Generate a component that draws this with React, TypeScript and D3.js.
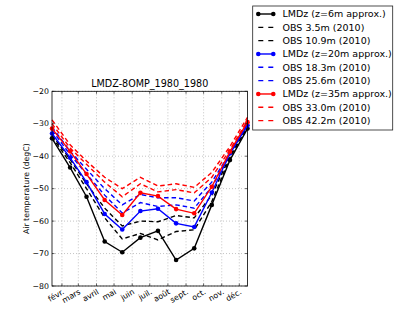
import React from "react";
import * as d3 from "d3";

// monthly values, one per month (15th)
const monthDates = [
  "2010-01-15", "2010-02-15", "2010-03-15", "2010-04-15", "2010-05-15", "2010-06-15",
  "2010-07-15", "2010-08-15", "2010-09-15", "2010-10-15", "2010-11-15", "2010-12-15",
];
const lmdz6m = [-34.5, -43.5, -52.5, -66.3, -69.6, -65.1, -63.0, -72.0, -68.4, -55.0, -41.2, -31.5];
const obs3_5 = [-34.0, -42.0, -50.0, -59.0, -65.5, -63.8, -65.8, -63.2, -62.7, -54.0, -40.5, -31.0];
const obs10_9 = [-33.5, -41.0, -48.5, -56.0, -61.5, -60.0, -60.2, -58.3, -59.0, -52.0, -40.0, -30.5];
const lmdz20m = [-33.0, -40.5, -48.0, -57.8, -62.6, -56.9, -56.2, -60.7, -61.8, -51.2, -39.1, -30.5];
const obs18_3 = [-32.0, -39.5, -45.5, -52.0, -57.5, -54.3, -55.5, -55.0, -56.0, -49.5, -39.5, -30.0];
const obs25_6 = [-31.0, -38.5, -44.0, -50.0, -55.0, -51.8, -52.8, -52.8, -53.8, -48.0, -39.0, -29.5];
const lmdz35m = [-31.5, -38.5, -45.5, -53.5, -58.1, -51.3, -52.3, -56.3, -57.6, -49.4, -38.6, -29.5];
const obs33_0 = [-30.0, -37.5, -42.5, -48.0, -52.5, -48.5, -51.0, -50.3, -51.3, -46.5, -38.0, -29.0];
const obs42_2 = [-28.8, -36.5, -41.5, -46.5, -50.0, -46.5, -49.2, -48.5, -49.6, -45.0, -37.0, -28.0];

const xTickDates = [
  "2010-02-01", "2010-03-01", "2010-04-01", "2010-05-01", "2010-06-01", "2010-07-01",
  "2010-08-01", "2010-09-01", "2010-10-01", "2010-11-01", "2010-12-01",
];
const xTickLabels = ["févr.", "mars", "avril", "mai", "juin", "juil.", "août", "sept.", "oct.", "nov.", "déc."];
const yTicks = [-80, -70, -60, -50, -40, -30, -20];

const series = [
  { name: "LMDz (z=6m approx.)", values: lmdz6m, color: "#000000", model: true },
  { name: "OBS 3.5m (2010)", values: obs3_5, color: "#000000", model: false },
  { name: "OBS 10.9m (2010)", values: obs10_9, color: "#000000", model: false },
  { name: "LMDz (z=20m approx.)", values: lmdz20m, color: "#0000ff", model: true },
  { name: "OBS 18.3m (2010)", values: obs18_3, color: "#0000ff", model: false },
  { name: "OBS 25.6m (2010)", values: obs25_6, color: "#0000ff", model: false },
  { name: "LMDz (z=35m approx.)", values: lmdz35m, color: "#ff0000", model: true },
  { name: "OBS 33.0m (2010)", values: obs33_0, color: "#ff0000", model: false },
  { name: "OBS 42.2m (2010)", values: obs42_2, color: "#ff0000", model: false },
];

const parse = d3.timeParse("%Y-%m-%d");
const font = "DejaVu Sans, sans-serif";

export default function App() {
  const W = 401, H = 311;
  const m = { left: 52, right: 247.5, top: 91.3, bottom: 286 };
  const dates = monthDates.map((d) => parse(d) as Date);

  const x = d3.scaleTime().domain([dates[0], dates[dates.length - 1]]).range([m.left, m.right]);
  const y = d3.scaleLinear().domain([-80, -20]).range([m.bottom, m.top]);

  const line = d3
    .line<number>()
    .x((_, i) => x(dates[i]))
    .y((v) => y(v));

  const tickX = xTickDates.map((d) => x(parse(d) as Date));

  // legend placement
  const lg = { x: 252.7, y: 6, w: 140, h: 124, row0: 14, step: 13.33 };

  return (
    <svg width={W} height={H} style={{ position: "absolute", left: 0, top: 0, background: "#fff" }}>
      {/* grid */}
      {tickX.map((tx, i) => (
        <line key={"gx" + i} x1={tx} x2={tx} y1={m.top} y2={m.bottom} stroke="#aaa" strokeWidth={0.7} strokeDasharray="1,2" />
      ))}
      {yTicks.map((t) => (
        <line key={"gy" + t} x1={m.left} x2={m.right} y1={y(t)} y2={y(t)} stroke="#aaa" strokeWidth={0.7} strokeDasharray="1,2" />
      ))}

      {/* series */}
      <g>
        {series.map((s) => (
          <g key={s.name}>
            <path
              d={line(s.values) || ""}
              fill="none"
              stroke={s.color}
              strokeWidth={1.4}
              strokeDasharray={s.model ? undefined : "4.5,3"}
            />
            {s.model &&
              s.values.map((v, i) => (
                <circle key={i} cx={x(dates[i])} cy={y(v)} r={2.3} fill={s.color} />
              ))}
          </g>
        ))}
      </g>

      {/* frame */}
      <rect x={m.left} y={m.top} width={m.right - m.left} height={m.bottom - m.top} fill="none" stroke="#000" strokeWidth={0.8} />

      {/* ticks, inward on all sides */}
      {tickX.map((tx, i) => (
        <g key={"tx" + i}>
          <line x1={tx} x2={tx} y1={m.bottom} y2={m.bottom - 2.5} stroke="#000" strokeWidth={0.6} />
          <line x1={tx} x2={tx} y1={m.top} y2={m.top + 2.5} stroke="#000" strokeWidth={0.6} />
          <text
            transform={`translate(${tx},${m.bottom + 2.5}) rotate(-30)`}
            textAnchor="end"
            dominantBaseline="hanging"
            fontFamily={font}
            fontSize={7.8}
          >
            {xTickLabels[i]}
          </text>
        </g>
      ))}
      {yTicks.map((t) => (
        <g key={"ty" + t}>
          <line x1={m.left} x2={m.left + 2.5} y1={y(t)} y2={y(t)} stroke="#000" strokeWidth={0.6} />
          <line x1={m.right} x2={m.right - 2.5} y1={y(t)} y2={y(t)} stroke="#000" strokeWidth={0.6} />
          <text x={m.left - 3} y={y(t)} dy="0.35em" textAnchor="end" fontFamily={font} fontSize={7.8}>
            {"\u2212" + Math.abs(t)}
          </text>
        </g>
      ))}

      {/* title and axis label */}
      <text x={(m.left + m.right) / 2} y={m.top - 4} textAnchor="middle" fontFamily={font} fontSize={9.6}>
        LMDZ-8OMP_1980_1980
      </text>
      <text
        transform={`translate(29,${(m.top + m.bottom) / 2}) rotate(-90)`}
        textAnchor="middle"
        fontFamily={font}
        fontSize={7.8}
      >
        Air temperature (degC)
      </text>

      {/* legend */}
      <rect x={lg.x} y={lg.y} width={lg.w} height={lg.h} fill="#fff" stroke="#222" strokeWidth={0.8} />
      {series.map((s, i) => {
        const cy = lg.row0 + i * lg.step;
        return (
          <g key={"lg" + i}>
            <line
              x1={258.3}
              x2={273.3}
              y1={cy}
              y2={cy}
              stroke={s.color}
              strokeWidth={1.4}
              strokeDasharray={s.model ? undefined : "5,5"}
            />
            {s.model && (
              <>
                <circle cx={258.3} cy={cy} r={2.3} fill={s.color} />
                <circle cx={273.3} cy={cy} r={2.3} fill={s.color} />
              </>
            )}
            <text x={282.5} y={cy} dy="0.35em" fontFamily={font} fontSize={9.5}>
              {s.name}
            </text>
          </g>
        );
      })}
    </svg>
  );
}
